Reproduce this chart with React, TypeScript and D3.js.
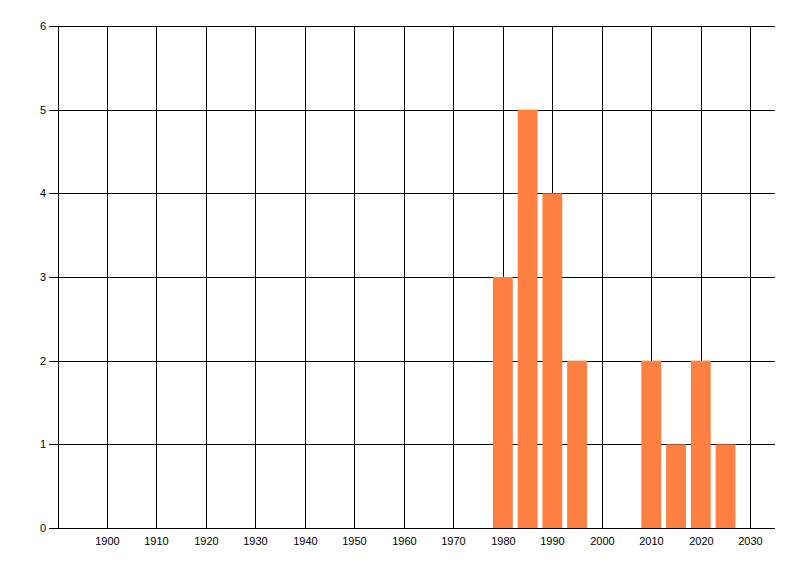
import React from "react";
import * as d3 from "d3";

const years = [1980, 1985, 1990, 1995, 2010, 2015, 2020, 2025];
const counts = [3, 5, 4, 2, 2, 1, 2, 1];
const xTicks = [1900, 1910, 1920, 1930, 1940, 1950, 1960, 1970, 1980, 1990, 2000, 2010, 2020, 2030];
const yTicks = [0, 1, 2, 3, 4, 5, 6];

export default function App() {
  const W = 800, H = 576;
  const left = 57.5, right = 775, top = 26, bottom = 528;
  const x = d3.scaleLinear().domain([1890, 2035]).range([left, right]);
  const y = d3.scaleLinear().domain([0, 6]).range([bottom, top]);
  const bw = x(1894) - x(1890);
  const font = "'Liberation Sans', Arial, sans-serif";
  const cx = (v: number) => Math.round(x(v)) + 0.5;
  const cy = (v: number) => Math.round(y(v)) + 0.5;
  return (
    <svg width={W} height={H} style={{ position: "absolute", left: 0, top: 0, background: "#fff" }}>
      {yTicks.map((t) => (
        <g key={t}>
          <line x1={49} x2={right} y1={cy(t)} y2={cy(t)} stroke="#000" strokeWidth={1} />
          <text x={46} y={cy(t)} dy="0.35em" textAnchor="end" fontFamily={font} fontSize={11} fill="#000">{t}</text>
        </g>
      ))}
      <line x1={cx(1890)} x2={cx(1890)} y1={cy(6)} y2={cy(0)} stroke="#000" />
      {xTicks.map((t) => (
        <g key={t}>
          <line x1={cx(t)} x2={cx(t)} y1={cy(6)} y2={cy(0)} stroke="#000" strokeWidth={1} />
          <text x={cx(t)} y={545} textAnchor="middle" fontFamily={font} fontSize={11} fill="#000">{t}</text>
        </g>
      ))}
      {years.map((yr, i) => (
        <rect key={yr} x={x(yr) - bw / 2} y={y(counts[i])} width={bw} height={y(0) - y(counts[i])} fill="#FF7F40" />
      ))}
    </svg>
  );
}
